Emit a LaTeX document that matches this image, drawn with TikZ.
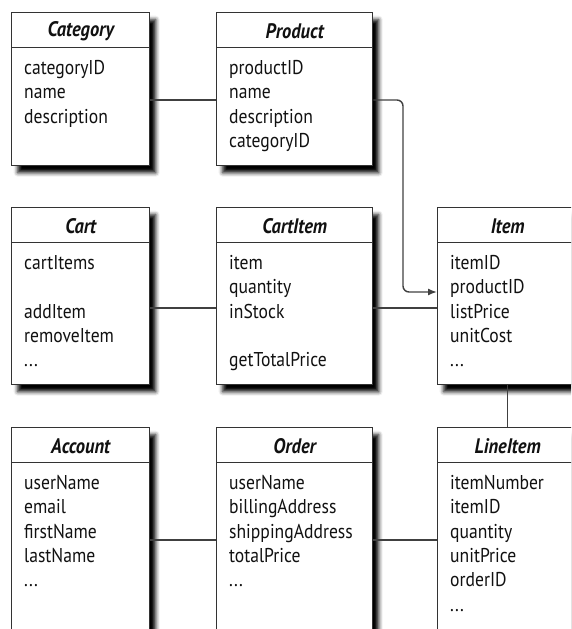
\documentclass[tikz,border=0pt]{standalone}
\usepackage{fontspec}
\setmainfont{PT Sans}[FakeStretch=0.88]
\usetikzlibrary{shadows.blur,arrows.meta}
\definecolor{boxc}{HTML}{333333}
\definecolor{linec}{HTML}{404040}
\definecolor{txtc}{HTML}{111111}
\newcommand\mydots{...}
\newcommand\umlcls[7]{%
  \node[box, minimum width=#4pt, minimum height=#5pt] (#1) at (#2,#3) {};
  \draw[hdr] ([yshift=-35.5pt]#1.north west) -- ([yshift=-35.5pt]#1.north east);
  \node[ttl] (#1-t) at ([yshift=-19.5pt]#1.north) {#6};
  \foreach \f [count=\i] in {#7} {\node[fld] (#1-\i) at ([xshift=13pt, yshift={-62.5pt-(\i-1)*24.3pt}]#1.north west) {\f};}
}
\begin{document}
\begin{tikzpicture}[x=1pt,y=-1pt,
  box/.style={draw=boxc, line width=1.4pt, fill=white, rectangle, anchor=north west, inner sep=0,
    blur shadow={shadow xshift=6pt, shadow yshift=-7pt, shadow blur radius=4pt, shadow opacity=100}},
  hdr/.style={draw=boxc, line width=1.4pt},
  ttl/.style={font=\fontsize{21}{24}\selectfont\bfseries\itshape, text=txtc, inner sep=0},
  fld/.style={font=\fontsize{20}{24}\selectfont, text=txtc, anchor=base west, inner sep=0},
  link/.style={draw=linec, line width=1.4pt}]
\useasboundingbox (0,0) rectangle (571,629);
\clip (0,0) rectangle (571,629);
\umlcls{cat}{11}{12}{138}{153}{Category}{categoryID,name,description}
\umlcls{prod}{216}{12}{156}{153}{Product}{productID,name,description,categoryID}
\umlcls{cart}{11}{207}{138}{177}{Cart}{cartItems,{},addItem,removeItem,\mydots}
\umlcls{citem}{216}{207}{156}{177}{CartItem}{item,quantity,inStock,{},getTotalPrice}
\umlcls{item}{437}{207}{140}{177}{Item}{itemID,productID,listPrice,unitCost,\mydots}
\umlcls{acct}{11}{427}{138}{220}{Account}{userName,email,firstName,lastName,\mydots}
\umlcls{order}{216}{427}{156}{220}{Order}{userName,billingAddress,shippingAddress,totalPrice,\mydots}
\umlcls{line}{437}{427}{140}{220}{LineItem}{itemNumber,itemID,quantity,unitPrice,orderID,\mydots}
\coordinate (r1) at (0,100);
\coordinate (r2) at (0,308);
\coordinate (r3) at (0,540);
\coordinate (bend) at (403,292);
\draw[link] (cat.east |- r1) -- (prod.west |- r1);
\draw[link, rounded corners=6pt, -{Latex[length=9pt,width=7pt]}] (prod.east |- r1) -| (bend) -- (item.west |- bend);
\draw[link] (cart.east |- r2) -- (citem.west |- r2);
\draw[link] (citem.east |- r2) -- (item.west |- r2);
\draw[link] (acct.east |- r3) -- (order.west |- r3);
\draw[link] (order.east |- r3) -- (line.west |- r3);
\draw[link] (item.south) -- (line.north);
\end{tikzpicture}
\end{document}
